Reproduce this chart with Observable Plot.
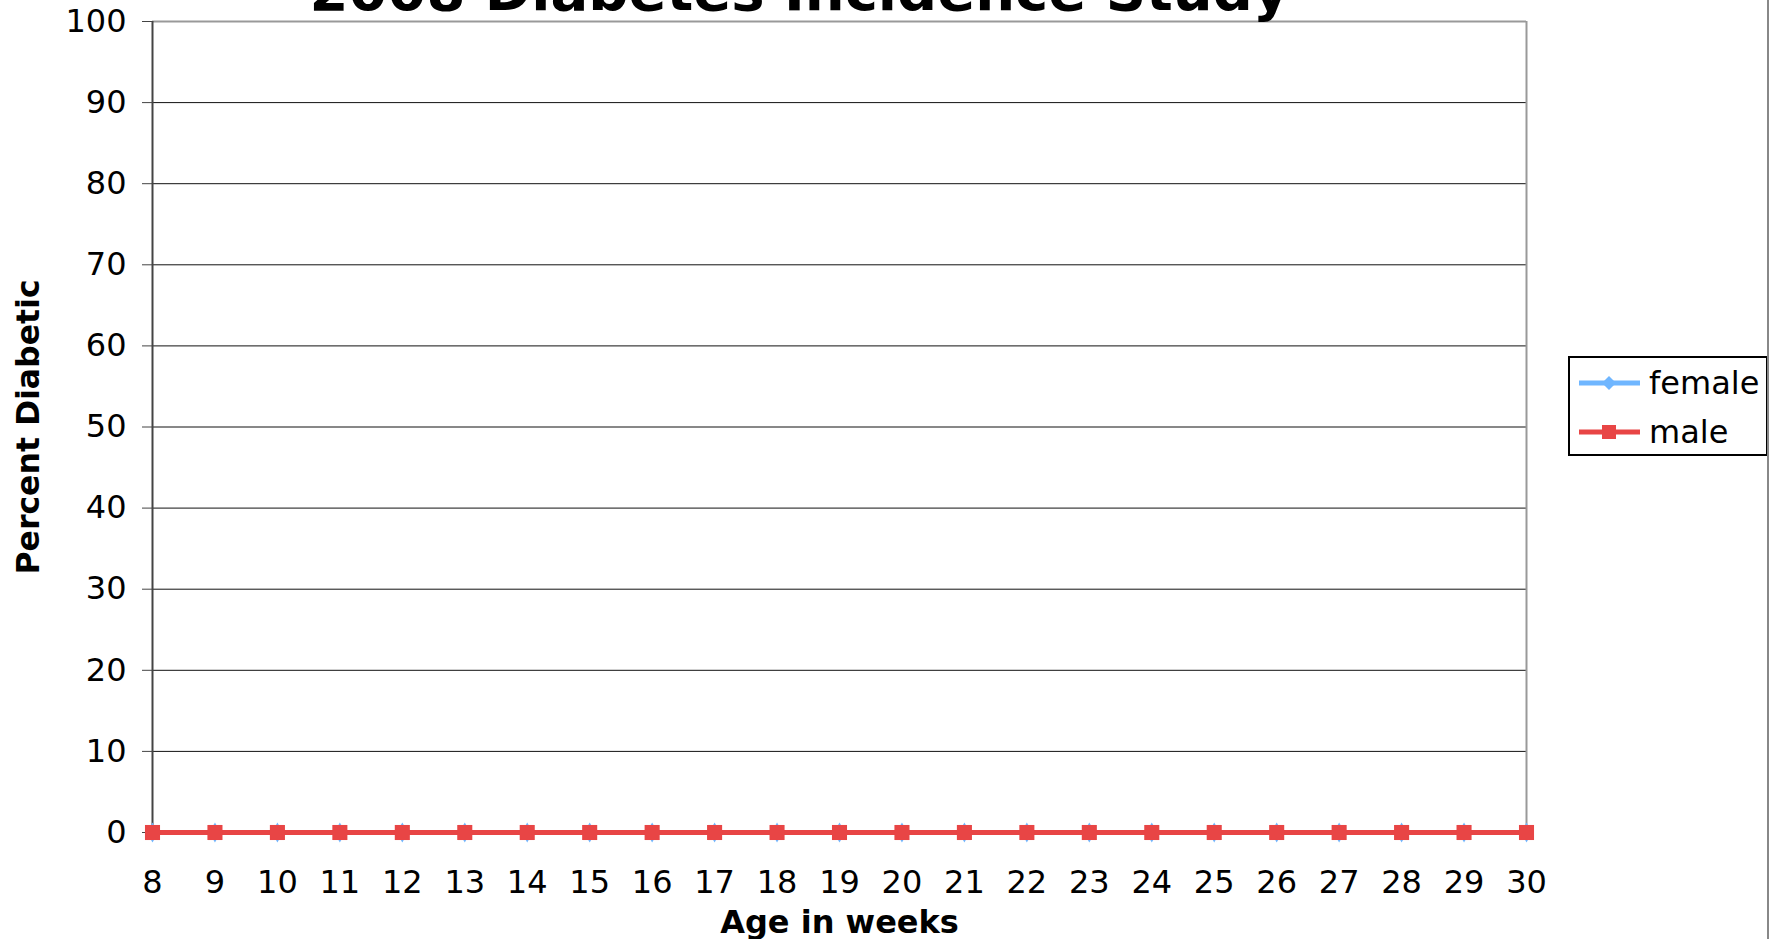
<!DOCTYPE html>
<html>
<head>
<meta charset="utf-8">
<script src="https://cdn.jsdelivr.net/npm/d3@7"></script>
<script src="https://cdn.jsdelivr.net/npm/@observablehq/plot@0.6"></script>
<style>
  html, body { margin: 0; padding: 0; background: #fff; }
  #wrap { position: relative; width: 1775px; height: 939px; overflow: hidden; font-family: "DejaVu Sans", Verdana, sans-serif; }
  #legend { position: absolute; left: 1568px; top: 356px; width: 196px; height: 96px; border: 2px solid #000; background: #fff; }
  .row { position: absolute; left: 9px; height: 30px; display: flex; align-items: center; font-size: 32px; color: #000; }
  .row svg { margin-right: 9px; }
  #edge { position: absolute; left: 1767px; top: 0; width: 2px; height: 939px; background: #888; }
</style>
</head>
<body>
<div id="wrap"></div>
<script>
// ---- data ----
const weeks = [8, 9, 10, 11, 12, 13, 14, 15, 16, 17, 18, 19, 20, 21, 22, 23, 24, 25, 26, 27, 28, 29, 30];
const femalePct = [0, 0, 0, 0, 0, 0, 0, 0, 0, 0, 0, 0, 0, 0, 0, 0, 0, 0, 0, 0, 0, 0, 0];
const malePct = [0, 0, 0, 0, 0, 0, 0, 0, 0, 0, 0, 0, 0, 0, 0, 0, 0, 0, 0, 0, 0, 0, 0];
const yTicks = [0, 10, 20, 30, 40, 50, 60, 70, 80, 90, 100];
const seriesNames = ["female", "male"];
const seriesColors = ["#6fb6ff", "#e84545"];
const titleText = "2008 Diabetes Incidence Study";
const xLabel = "Age in weeks";
const yLabel = "Percent Diabetic";

const female = weeks.map((w, i) => ({week: w, pct: femalePct[i]}));
const male = weeks.map((w, i) => ({week: w, pct: malePct[i]}));

const chart = Plot.plot({
  width: 1775,
  height: 939,
  marginLeft: 152,
  marginRight: 249,
  marginTop: 21,
  marginBottom: 107,
  style: {fontFamily: "DejaVu Sans, Verdana, sans-serif", background: "#fff", color: "#000"},
  x: {type: "linear", domain: [8, 30]},
  y: {type: "linear", domain: [0, 100]},
  marks: [
    Plot.gridY(yTicks.filter(d => d > 0 && d < 100), {stroke: "#111", strokeOpacity: 1, strokeWidth: 1}),
    Plot.ruleY([100], {stroke: "#999", strokeWidth: 2}),
    Plot.ruleX([30], {stroke: "#999", strokeWidth: 2}),
    Plot.axisY(yTicks, {tickSize: 10, tickPadding: 16, fontSize: 32, stroke: "#444", label: null}),
    Plot.axisX(weeks, {tickSize: 8, tickPadding: 30, fontSize: 32, stroke: "#444", label: null, tickFormat: d => String(d)}),
    Plot.ruleX([8], {stroke: "#444", strokeWidth: 2, y1: 100, y2: 0, insetBottom: -8}),
    Plot.line(female, {x: "week", y: "pct", stroke: seriesColors[0], strokeWidth: 5}),
    Plot.dot(female, {x: "week", y: "pct", symbol: "diamond", r: 6, fill: seriesColors[0], stroke: "none"}),
    Plot.line(male, {x: "week", y: "pct", stroke: seriesColors[1], strokeWidth: 5}),
    Plot.dot(male, {x: "week", y: "pct", symbol: "square", r: 8.5, fill: seriesColors[1], stroke: "none"}),
    Plot.text([titleText], {frameAnchor: "top-left", dx: 157, dy: -12, textAnchor: "start", lineAnchor: "bottom", fontSize: 56, fontWeight: "bold", fill: "#000"}),
    Plot.text([xLabel], {frameAnchor: "bottom", dy: 100, textAnchor: "middle", lineAnchor: "bottom", fontSize: 32, fontWeight: "bold", fill: "#000"}),
    Plot.text([yLabel], {frameAnchor: "left", dx: -124, rotate: -90, textAnchor: "middle", lineAnchor: "middle", fontSize: 31.5, fontWeight: "bold", fill: "#000"})
  ]
});

const wrap = document.getElementById("wrap");
chart.style.position = "absolute";
chart.style.left = "0px";
chart.style.top = "0px";
wrap.appendChild(chart);

// legend
const legend = document.createElement("div");
legend.id = "legend";
const rowTops = [10, 59];
seriesNames.forEach((name, i) => {
  const row = document.createElement("div");
  row.className = "row";
  row.style.top = rowTops[i] + "px";
  const sym = i === 0
    ? `<polygon points="30,8 37,15 30,22 23,15" fill="${seriesColors[0]}"/>`
    : `<rect x="23" y="8" width="14" height="14" fill="${seriesColors[1]}"/>`;
  row.innerHTML = `<svg width="61" height="30"><line x1="0" y1="15" x2="61" y2="15" stroke="${seriesColors[i]}" stroke-width="5"/>${sym}</svg><span>${name}</span>`;
  legend.appendChild(row);
});
wrap.appendChild(legend);

const edge = document.createElement("div");
edge.id = "edge";
wrap.appendChild(edge);
</script>
</body>
</html>
